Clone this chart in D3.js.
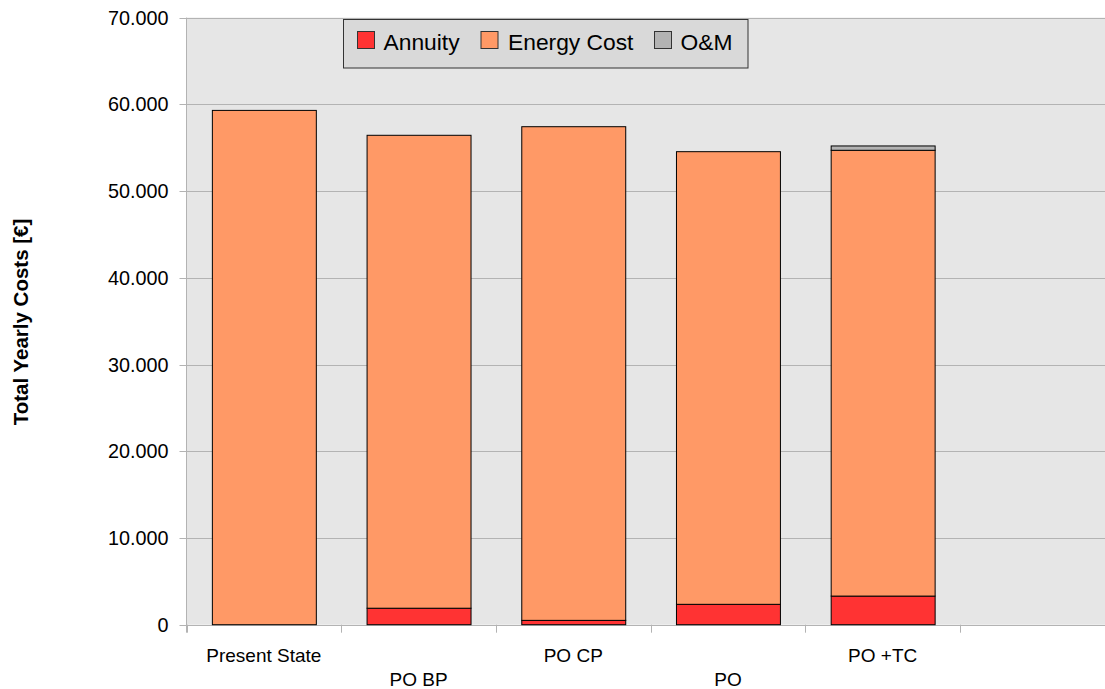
<!DOCTYPE html>
<html>
<head>
<meta charset="utf-8">
<script src="https://cdn.jsdelivr.net/npm/d3@7"></script>
<style>
  html, body { margin: 0; padding: 0; background: #ffffff; }
  svg { display: block; font-family: "Liberation Sans", Arial, sans-serif; }
</style>
</head>
<body>
<svg id="chart" width="1105" height="689"></svg>
<script>
// Scenario names along the category axis
const categories = ["Present State", "PO BP", "PO CP", "PO", "PO +TC"];
// Yearly cost components per scenario [€]
const annuity    = [0,     1900,  500,   2350,  3300];
const energyCost = [59300, 54530, 56920, 52190, 51400];
const om         = [0,     0,     0,     0,     500];
// Series names and value-axis ticks
const seriesNames = ["Annuity", "Energy Cost", "O&M"];
const yTicks = [0, 10000, 20000, 30000, 40000, 50000, 60000, 70000];

const colors = { "Annuity": "#ff3333", "Energy Cost": "#ff9966", "O&M": "#b3b3b3" };

const svg = d3.select("#chart");
const plotLeft = 186.5, plotTop = 17.6, plotBottom = 624.7;
const step = 154.7;
// one trailing empty slot on the category axis
const slots = categories.concat([" "]);
const plotRight = plotLeft + step * slots.length;

const x = d3.scaleBand().domain(slots).range([plotLeft, plotRight]).paddingInner(0.328).paddingOuter(0.164);
const y = d3.scaleLinear().domain([0, 70000]).range([plotBottom, plotTop]);

// plot background
svg.append("rect").attr("x", plotLeft).attr("y", plotTop)
  .attr("width", plotRight - plotLeft).attr("height", plotBottom - plotTop).attr("fill", "#e6e6e6");

// horizontal gridlines with outward ticks
const fmt = v => d3.format(",")(v).replace(/,/g, ".");
svg.append("g").selectAll("line").data(yTicks).join("line")
  .attr("x1", plotLeft - 7).attr("x2", plotRight)
  .attr("y1", d => Math.round(y(d)) + 0.5).attr("y2", d => Math.round(y(d)) + 0.5)
  .attr("stroke", "#b3b3b3").attr("stroke-width", 1);

svg.append("g").selectAll("text").data(yTicks).join("text")
  .attr("x", 168.5).attr("y", d => y(d))
  .attr("dy", "0.36em").attr("text-anchor", "end")
  .attr("font-size", "19.8px").attr("fill", "#000")
  .text(d => fmt(d));

// axis line
svg.append("line").attr("x1", plotLeft).attr("x2", plotLeft).attr("y1", plotTop).attr("y2", plotBottom + 8)
  .attr("stroke", "#b3b3b3");
// category boundary ticks
const bounds = d3.range(slots.length + 1).map(i => plotLeft + i * x.step());
svg.append("g").selectAll("line").data(bounds).join("line")
  .attr("x1", d => Math.round(d) + 0.5).attr("x2", d => Math.round(d) + 0.5)
  .attr("y1", plotBottom).attr("y2", plotBottom + 8)
  .attr("stroke", "#b3b3b3");

// stacked bars
const rows = categories.map((c, i) => ({ cat: c, "Annuity": annuity[i], "Energy Cost": energyCost[i], "O&M": om[i] }));
const stack = d3.stack().keys(seriesNames)(rows);

const gBars = svg.append("g");
stack.forEach(layer => {
  gBars.append("g").selectAll("rect")
    .data(layer.filter(d => d[1] - d[0] > 0))
    .join("rect")
    .attr("x", d => x(d.data.cat) + 0.5)
    .attr("width", x.bandwidth())
    .attr("y", d => y(d[1]))
    .attr("height", d => y(d[0]) - y(d[1]))
    .attr("fill", colors[layer.key])
    .attr("stroke", "#000").attr("stroke-width", 1);
});

// category labels, staggered on two rows
svg.append("g").selectAll("text").data(categories).join("text")
  .attr("x", d => x(d) + x.bandwidth() / 2)
  .attr("y", (d, i) => i % 2 === 0 ? 662 : 686)
  .attr("text-anchor", "middle").attr("font-size", "19px").attr("fill", "#000")
  .text(d => d);

// value axis title
svg.append("text")
  .attr("transform", "translate(28,322) rotate(-90)")
  .attr("text-anchor", "middle").attr("font-size", "20.5px").attr("font-weight", "bold")
  .text("Total Yearly Costs [€]");

// legend
const lg = svg.append("g");
lg.append("rect").attr("x", 343.5).attr("y", 19.5).attr("width", 404.5).attr("height", 48.5)
  .attr("fill", "#d9d9d9").attr("stroke", "#333").attr("stroke-width", 1);
const legendItems = [
  { name: "Annuity", sx: 357, tx: 383.5 },
  { name: "Energy Cost", sx: 480.5, tx: 508 },
  { name: "O&M", sx: 654, tx: 680.5 }
];
legendItems.forEach(it => {
  lg.append("rect").attr("x", it.sx + 0.5).attr("y", 31.5).attr("width", 17).attr("height", 17)
    .attr("fill", colors[it.name]).attr("stroke", "#333");
  lg.append("text").attr("x", it.tx).attr("y", 49.5).attr("font-size", "22.8px").attr("fill", "#000")
    .text(it.name);
});
</script>
</body>
</html>
